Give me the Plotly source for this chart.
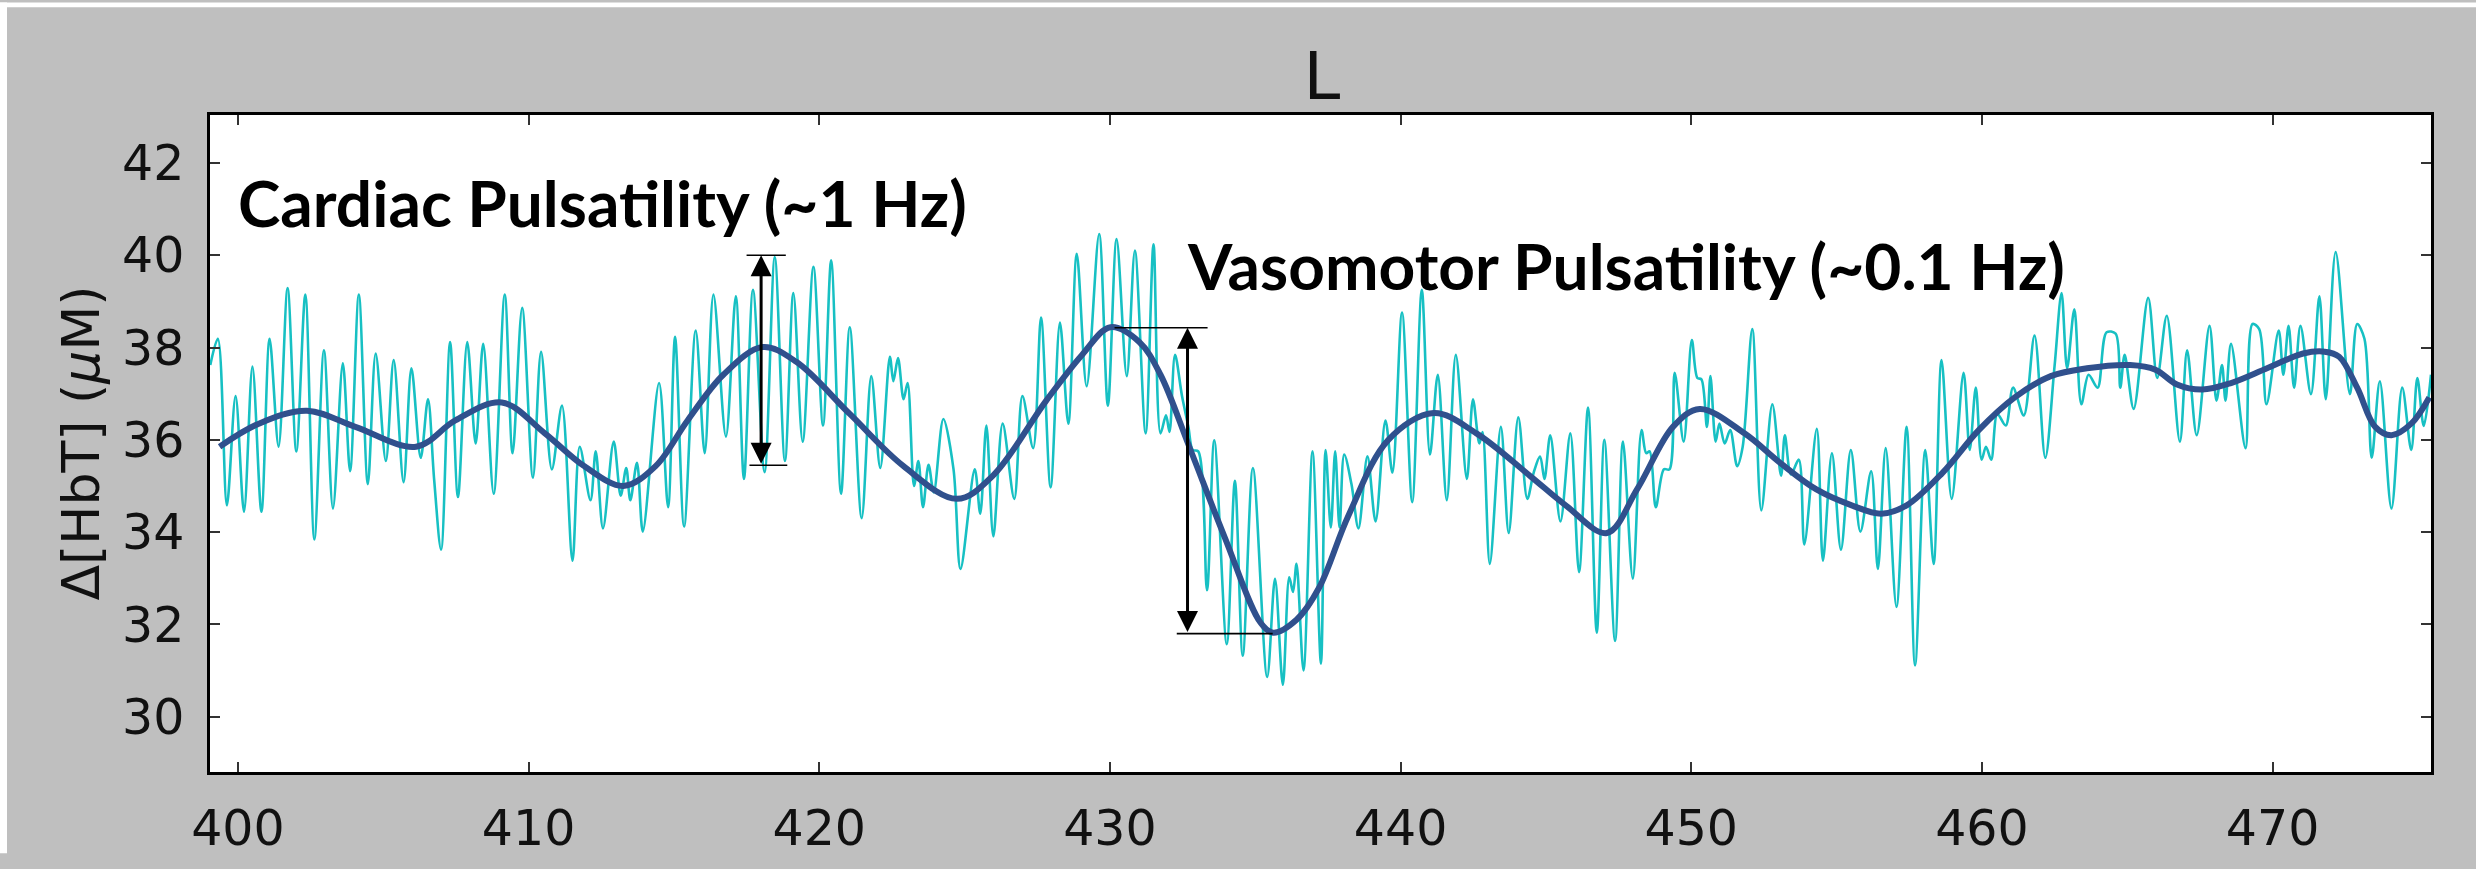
import plotly.graph_objects as go

# ---------------- data ----------------
# raw total-haemoglobin signal (peaks / troughs), time in s
t_raw = [
    399.05, 399.31, 399.62, 399.92, 400.21, 400.50, 400.81, 401.09, 401.40, 401.71,
    402.01, 402.32, 402.63, 402.96, 403.27, 403.61, 403.86, 404.16, 404.47, 404.74,
    405.09, 405.36, 405.70, 405.97, 406.29, 406.54, 406.75, 406.99, 407.30, 407.57,
    407.89, 408.18, 408.44, 408.80, 409.18, 409.45, 409.78, 410.15, 410.43, 410.80,
    411.15, 411.51, 411.76, 412.13, 412.31, 412.56, 412.93, 413.17, 413.36, 413.50,
    413.73, 413.93, 414.49, 414.80, 415.04, 415.35, 415.75, 416.06, 416.36, 416.79,
    417.13, 417.41, 417.72, 418.12,
    418.47, 418.82, 419.11, 419.43, 419.80, 420.13, 420.41, 420.75, 421.05, 421.46,
    421.79, 422.10, 422.43, 422.55, 422.71, 422.90, 423.04, 423.26, 423.41, 423.57,
    423.76, 423.94, 424.27, 424.62, 424.86, 425.35, 425.54, 425.75, 425.99, 426.31,
    426.71, 426.99, 427.36, 427.63, 427.96, 428.28, 428.57, 428.86, 429.20, 429.63,
    429.93, 430.23, 430.58, 430.86, 431.23, 431.50, 431.74, 431.93, 432.05, 432.24,
    432.48, 432.70, 432.85, 433.04, 433.34, 433.59, 434.02, 434.30, 434.57, 434.92,
    435.41, 435.68, 435.95, 436.17, 436.30, 436.42, 436.66, 436.97,
    437.26, 437.42, 437.60, 437.75, 437.90, 438.06, 438.31, 438.55, 438.86, 439.14,
    439.48, 439.72, 440.05, 440.40, 440.73, 441.01, 441.28, 441.59, 441.90, 442.28,
    442.49, 442.71, 442.82, 443.07, 443.45, 443.72, 444.05, 444.36, 444.58, 444.80,
    444.95, 445.15, 445.50, 445.84, 446.14, 446.45, 446.75, 447.01, 447.38, 447.65,
    447.99, 448.29, 448.45, 448.57, 448.78, 449.06, 449.25, 449.43, 449.74, 450.02,
    450.21, 450.35, 450.54, 450.66, 450.84, 450.97, 451.15, 451.34, 451.58, 451.77,
    452.10, 452.41, 452.79, 453.09, 453.22, 453.43, 453.70, 453.89, 454.32, 454.53,
    454.84, 455.15, 455.49, 455.82, 456.19,
    456.42, 456.69, 457.06, 457.41, 457.70, 458.05, 458.34, 458.61, 458.96, 459.37,
    459.58, 459.79, 459.99, 460.14, 460.32, 460.53, 460.82, 461.07, 461.44, 461.81,
    462.18, 462.50, 462.74, 462.93, 463.18, 463.42, 463.67, 463.98, 464.29, 464.60,
    464.76, 464.91, 465.22, 465.72, 466.03, 466.36, 466.81, 467.06, 467.39, 467.83,
    468.07, 468.26, 468.38, 468.57, 469.07, 469.31, 469.54, 469.79, 470.21, 470.37,
    470.55, 470.74, 470.96, 471.32, 471.61, 471.83, 472.17, 472.66, 472.91, 473.16,
    473.41, 473.69, 474.09, 474.46, 474.77, 474.98, 475.20, 475.45,
]
hbt_raw = [
    37.62, 38.19, 34.58, 36.95, 34.44, 37.59, 34.44, 38.19, 35.85, 39.29,
    35.75, 39.15, 33.84, 37.94, 34.51, 37.66, 35.32, 39.15, 35.04, 37.87,
    35.54, 37.73, 35.08, 37.55, 35.61, 36.88, 35.15, 33.62, 38.12, 34.76,
    38.12, 35.92, 38.08, 34.83, 39.15, 35.71, 38.86, 35.18, 37.91, 35.36,
    36.74, 33.38, 35.85, 34.69, 35.75, 34.08, 35.96, 34.79, 35.39, 34.69,
    35.50, 34.01, 37.23, 34.54, 38.23, 34.12, 38.37, 35.71, 39.15, 36.07,
    39.11, 35.15, 39.25, 35.30,
    39.96, 35.54, 39.18, 35.96, 39.75, 36.31, 39.89, 34.83, 38.44, 34.30,
    37.38, 35.39, 37.80, 37.27, 37.77, 36.88, 37.23, 35.00, 35.54, 34.54,
    35.46, 34.86, 36.45, 35.36, 33.20, 35.36, 34.40, 36.31, 33.91, 36.35,
    34.72, 36.95, 35.82, 38.65, 34.97, 38.54, 36.35, 40.03, 37.16, 40.46,
    36.74, 40.35, 37.38, 40.10, 36.14, 40.24, 36.14, 36.53, 36.17, 37.84,
    36.95, 36.28, 35.78, 35.75, 32.74, 35.99, 31.57, 35.11, 31.32, 35.39,
    30.86, 32.99, 30.69, 33.02, 32.70, 33.31, 31.00, 35.75,
    31.15, 35.78, 34.10, 35.75, 34.10, 35.68, 35.04, 34.08, 35.64, 34.23,
    36.42, 35.29, 38.76, 34.65, 39.25, 35.68, 37.41, 34.69, 37.84, 35.15,
    36.88, 35.92, 36.17, 33.31, 36.28, 33.98, 36.49, 34.72, 35.29, 35.64,
    35.15, 36.10, 34.23, 36.14, 33.13, 36.70, 31.82, 36.00, 31.64, 35.96,
    32.99, 36.21, 35.71, 35.75, 34.54, 35.36, 35.36, 37.45, 35.96, 38.16,
    37.34, 37.31, 36.28, 37.38, 35.96, 36.35, 35.92, 36.21, 35.43, 35.85,
    38.40, 34.47, 36.77, 35.22, 36.10, 35.25, 35.57, 33.73, 36.24, 33.38,
    35.71, 33.62, 35.78, 34.01, 35.32,
    33.20, 35.82, 32.38, 36.28, 31.11, 35.78, 33.31, 37.73, 34.72, 37.45,
    35.78, 37.13, 35.57, 35.85, 35.57, 36.56, 36.31, 37.13, 36.53, 38.26,
    35.61, 37.60, 39.18, 37.55, 38.83, 36.77, 37.41, 37.13, 38.33, 38.30,
    37.13, 37.84, 36.67, 39.08, 37.34, 38.69, 35.96, 37.94, 36.10, 38.47,
    36.85, 37.62, 36.85, 38.08, 35.82, 38.51, 38.40, 36.77, 38.37, 37.41,
    38.47, 37.13, 38.47, 36.99, 39.11, 36.88, 40.07, 36.99, 38.51, 38.19,
    35.61, 37.27, 34.51, 37.13, 35.78, 37.34, 36.30, 37.41,
]

# low-pass (vasomotor) component
t_smooth = [
    399.37, 400.72, 402.38, 404.04, 406.13, 407.48, 409.08, 410.56, 411.91, 413.26,
    414.37, 415.47, 416.70, 418.05, 419.21, 421.05, 422.90, 424.74, 425.97, 427.81,
    429.04, 430.02, 431.01, 431.74, 432.73, 433.96, 435.19, 435.62, 436.42, 437.20,
    438.20, 439.58, 441.14, 442.61, 444.45, 445.68, 447.10, 448.14, 449.37, 450.29,
    451.83, 453.06, 454.29, 455.52, 456.54, 457.41, 458.65, 459.89, 461.13, 462.37,
    463.61, 465.10, 465.97, 466.71, 467.58, 468.57, 469.81, 471.05, 471.79, 472.29,
    472.91, 473.53, 474.09, 474.77, 475.39,
]
hbt_smooth = [
    35.85, 36.35, 36.63, 36.28, 35.85, 36.42, 36.81, 36.14, 35.43, 35.00,
    35.43, 36.42, 37.41, 38.01, 37.69, 36.56, 35.43, 34.72, 35.22, 36.85,
    37.84, 38.44, 38.12, 37.41, 35.85, 33.87, 32.03, 31.82, 32.10, 32.80,
    34.35, 36.00, 36.58, 36.14, 35.22, 34.58, 33.98, 34.93, 36.28, 36.67,
    36.14, 35.50, 34.93, 34.58, 34.40, 34.58, 35.29, 36.21, 36.92, 37.38,
    37.55, 37.62, 37.52, 37.20, 37.09, 37.23, 37.55, 37.87, 37.91, 37.80,
    37.13, 36.28, 36.10, 36.35, 36.92,
]

x_ticks = [400, 410, 420, 430, 440, 450, 460, 470]
y_ticks = [30, 32, 34, 36, 38, 40, 42]
x_range = [399.04, 475.45]
y_range = [28.8, 43.04]

# annotation markers (time, low, high) and their end bars
cardiac_x = 418.0
cardiac_span = [35.45, 40.0]
cardiac_bar_top = [417.5, 418.85]
cardiac_bar_bottom = [417.6, 418.9]
cardiac_label = "Cardiac Pulsatility (~1 Hz)"
cardiac_label_pos = [399.95, 41.15]

vaso_x = 432.67
vaso_span = [31.8, 38.43]
vaso_bar_top = [430.16, 433.36]
vaso_bar_bottom = [432.3, 435.6]
vaso_label = "Vasomotor Pulsatility (~0.1 Hz)"
vaso_label_pos = [432.6, 39.78]

# ---------------- figure ----------------
W, H = 2476, 869
ML, MR, MT, MB = 210, 45, 115, 83
PW, PH = W - ML - MR, H - MT - MB

CYAN = "#17C0C3"
NAVY = "#30508D"

fig = go.Figure()
fig.add_trace(go.Scatter(x=t_raw, y=hbt_raw, mode="lines",
                         line=dict(color=CYAN, width=2.6, shape="spline", smoothing=0.9),
                         showlegend=False, hoverinfo="skip"))
fig.add_trace(go.Scatter(x=t_smooth, y=hbt_smooth, mode="lines",
                         line=dict(color=NAVY, width=6, shape="spline", smoothing=1.0),
                         showlegend=False, hoverinfo="skip"))

# end bars of the range arrows
for bx, by in [(cardiac_bar_top, cardiac_span[1]), (cardiac_bar_bottom, cardiac_span[0]),
               (vaso_bar_top, vaso_span[1]), (vaso_bar_bottom, vaso_span[0])]:
    fig.add_trace(go.Scatter(x=bx, y=[by, by], mode="lines",
                             line=dict(color="black", width=1.6),
                             showlegend=False, hoverinfo="skip"))

annotations = []
for ax_x, span in [(cardiac_x, cardiac_span), (vaso_x, vaso_span)]:
    annotations.append(dict(
        x=ax_x, y=span[1], ax=ax_x, ay=span[0], xref="x", yref="y", axref="x", ayref="y",
        text="", showarrow=True, arrowhead=2, startarrowhead=2, arrowside="end+start",
        arrowwidth=3, arrowsize=1.4, startarrowsize=1.4, arrowcolor="black"))

for txt, pos in [(cardiac_label, cardiac_label_pos), (vaso_label, vaso_label_pos)]:
    annotations.append(dict(
        x=pos[0], y=pos[1], xref="x", yref="y", text="<b>" + txt + "</b>", showarrow=False,
        xanchor="left", yanchor="middle",
        font=dict(family="Lato", size=64, color="black")))

annotations.append(dict(
    x=(80 - ML) / PW, y=0.5, xref="paper", yref="paper",
    text="Δ[HbT] (<i>μ</i>M)", showarrow=False, textangle=-90,
    xanchor="center", yanchor="middle",
    font=dict(family="DejaVu Sans", size=52, color="#111111")))

# thin white strips at the top and left edge of the picture
shapes = [
    dict(type="rect", xref="paper", yref="paper", layer="above",
         x0=-ML / PW, x1=(7 - ML) / PW, y0=-MB / PH, y1=(H - MB) / PH,
         fillcolor="white", line=dict(width=0)),
    dict(type="rect", xref="paper", yref="paper", layer="above",
         x0=-ML / PW, x1=(W - ML) / PW, y0=(H - MB - 5) / PH, y1=(H - MB) / PH,
         fillcolor="white", line=dict(width=0)),
]

axis_common = dict(showgrid=False, zeroline=False, showline=True, linecolor="black",
                   linewidth=2.5, mirror="ticks", ticks="inside", ticklen=10,
                   tickwidth=1.5, tickcolor="#333333",
                   tickfont=dict(family="DejaVu Sans", size=49, color="#111111"))

fig.update_layout(
    width=W, height=H,
    margin=dict(l=ML, r=MR, t=MT, b=MB, pad=0),
    paper_bgcolor="#BFBFBF", plot_bgcolor="white",
    title=dict(text="L", x=(1322 - ML) / PW, xref="paper", xanchor="center",
               y=1 - 76 / H, yref="container", yanchor="middle",
               font=dict(family="DejaVu Sans", size=66, color="#111111")),
    xaxis=dict(range=x_range, tickvals=x_ticks, ticklabelstandoff=11, **axis_common),
    yaxis=dict(range=y_range, tickvals=y_ticks, ticklabelstandoff=13, **axis_common),
    annotations=annotations, shapes=shapes,
)

fig.write_html("out.html")
